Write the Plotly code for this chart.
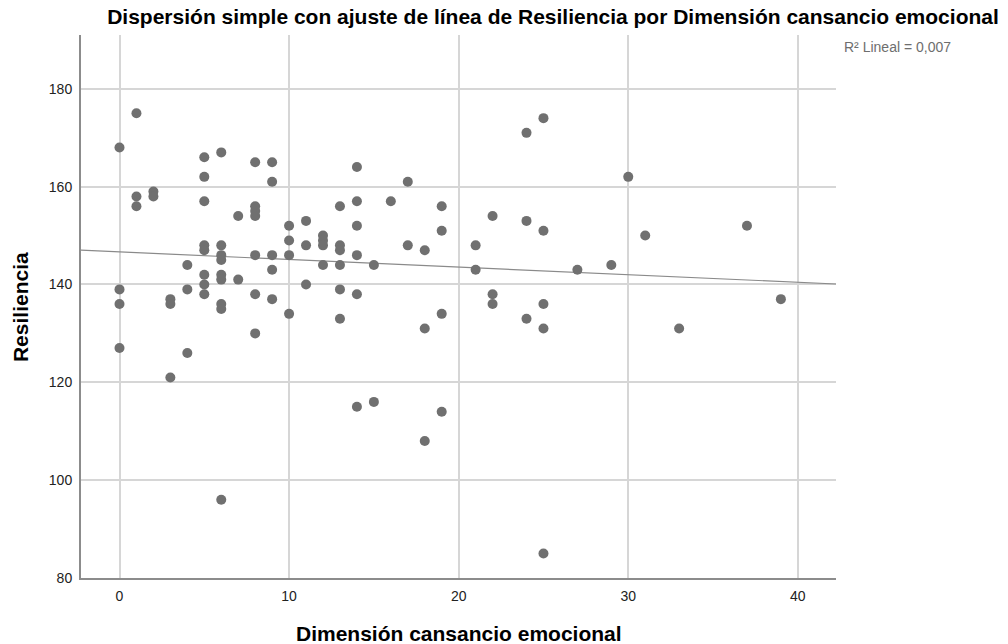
import numpy as np
import plotly.graph_objects as go

# Data: Dimensión cansancio emocional (x) vs Resiliencia (y)
cansancio = [
    0, 0, 0, 0,
    1, 1, 1,
    2, 2,
    3, 3, 3,
    4, 4, 4,
    5, 5, 5, 5, 5, 5, 5, 5,
    6, 6, 6, 6, 6, 6, 6, 6, 6,
    7, 7,
    8, 8, 8, 8, 8, 8, 8,
    9, 9, 9, 9, 9,
    10, 10, 10, 10,
    11, 11, 11,
    12, 12, 12, 12,
    13, 13, 13, 13, 13, 13,
    14, 14, 14, 14, 14, 14,
    15, 15,
    16,
    17, 17,
    18, 18, 18,
    19, 19, 19, 19,
    21, 21,
    22, 22, 22,
    24, 24, 24,
    25, 25, 25, 25, 25,
    27, 29, 30, 31, 33, 37, 39,
]
resiliencia = [
    168, 139, 136, 127,
    175, 158, 156,
    159, 158,
    137, 136, 121,
    144, 139, 126,
    166, 162, 157, 148, 147, 142, 140, 138,
    167, 148, 146, 145, 142, 141, 136, 135, 96,
    154, 141,
    165, 156, 155, 154, 146, 138, 130,
    165, 161, 146, 143, 137,
    152, 149, 146, 134,
    153, 148, 140,
    150, 149, 148, 144,
    156, 148, 147, 144, 139, 133,
    164, 157, 152, 146, 138, 115,
    144, 116,
    157,
    161, 148,
    147, 131, 108,
    156, 151, 134, 114,
    148, 143,
    154, 138, 136,
    171, 153, 133,
    174, 151, 136, 131, 85,
    143, 144, 162, 150, 131, 152, 137,
]

title_text = "Dispersión simple con ajuste de línea de Resiliencia por Dimensión cansancio emocional"
x_title = "Dimensión cansancio emocional"
y_title = "Resiliencia"
r2_label = "R² Lineal = 0,007"
x_ticks = [0, 10, 20, 30, 40]
y_ticks = [80, 100, 120, 140, 160, 180]
x_range = [-2.27, 42.25]
y_range = [80, 191]

slope, intercept = np.polyfit(cansancio, resiliencia, 1)
fit_x = np.array(x_range)
fit_y = slope * fit_x + intercept

FONT = "Liberation Sans, Arial, sans-serif"

fig = go.Figure()
fig.add_trace(go.Scatter(
    x=fit_x, y=fit_y, mode="lines",
    line=dict(color="#8a8a8a", width=1.2),
    hoverinfo="skip", showlegend=False,
))
fig.add_trace(go.Scatter(
    x=cansancio, y=resiliencia, mode="markers",
    marker=dict(color="#707070", size=10, line=dict(width=0)),
    showlegend=False,
))

fig.update_layout(
    width=1008, height=644,
    margin=dict(l=81, r=172, t=35, b=66),
    paper_bgcolor="white", plot_bgcolor="white",
    font=dict(family=FONT, size=14, color="#222222"),
    title=dict(
        text="<b>" + title_text + "</b>",
        x=553 / 1008, xanchor="center", xref="container",
        y=1 - 17 / 644, yanchor="middle", yref="container",
        font=dict(family=FONT, size=21, color="#000000"),
    ),
    xaxis=dict(
        range=x_range, tickvals=x_ticks, showgrid=True,
        gridcolor="#d6d6d6", gridwidth=2, zeroline=False,
        showline=True, linecolor="#8c8c8c", linewidth=2,
        ticks="", ticklabelstandoff=4,
        tickfont=dict(family=FONT, size=14, color="#222222"),
    ),
    yaxis=dict(
        range=y_range, tickvals=y_ticks, showgrid=True,
        gridcolor="#d6d6d6", gridwidth=2, zeroline=False,
        showline=True, linecolor="#8c8c8c", linewidth=2,
        ticks="", ticklabelstandoff=4,
        tickfont=dict(family=FONT, size=14, color="#222222"),
    ),
    annotations=[
        dict(text="<b>" + x_title + "</b>", xref="paper", yref="paper",
             x=0.5, y=(578 - 633) / 543, xanchor="center", yanchor="middle",
             showarrow=False, font=dict(family=FONT, size=21, color="#000000")),
        dict(text="<b>" + y_title + "</b>", xref="paper", yref="paper",
             x=(20 - 81) / 755, y=0.499, xanchor="center", yanchor="middle",
             textangle=-90, showarrow=False,
             font=dict(family=FONT, size=21, color="#000000")),
        dict(text=r2_label, xref="paper", yref="paper",
             x=(842 - 81) / 755, y=(578 - 47) / 543, xanchor="left", yanchor="middle",
             showarrow=False, font=dict(family=FONT, size=14, color="#6e6e6e")),
    ],
)

fig.write_html("out.html")
